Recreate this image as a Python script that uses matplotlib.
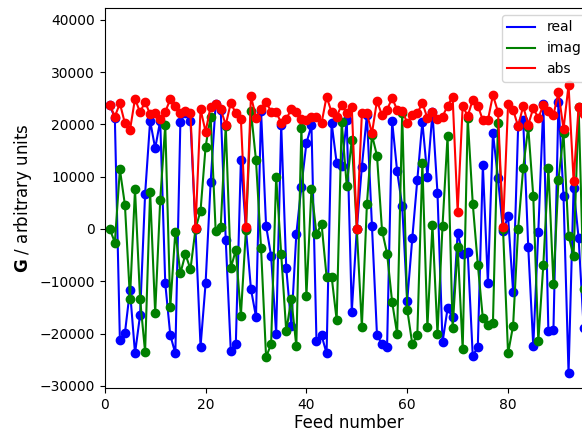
import numpy as np
import matplotlib.pyplot as plt

# feed numbers (1..95 visible in the picture)
feed = np.arange(1, 96)

real = [23700, 21200, -21200, -19900, -11700, -23800, -16500, 6600, 20700, 15400,
        20700, -10400, -20300, -23800, 20500, 22100, 20700, 0, -22500, -10400,
        8900, 23900, 22800, -2100, -23300, -21900, 13200, 0, -11500, -16800,
        22600, 600, -5200, -20100, 19900, -7500, -18500, -1000, 8100, 16400,
        19800, -21500, -20300, -23800, 20300, 12600, 12000, 20800, -15800, 0,
        11900, 21800, 600, -20300, -22000, -22500, 20700, 11000, 4400, -13700,
        -1800, 9400, 20500, 10000, 22300, 6900, -21700, -15200, -16900, -800,
        -4700, -4500, -24300, -22500, 12200, -10400, 18400, 9700, -400, 2400,
        -12000, 19600, 20800, -3400, -22400, -600, 23900, -19600, -19400, 24300,
        6300, -27600, 7800, -1800, -18900]

imag = [0, -2600, 11400, 4600, -13300, 7600, -13300, -23500, 7100, -16100,
        5500, 19900, -14900, -500, -8500, -4800, -7700, 0, 3500, 15700,
        21500, -400, 400, 19700, -7500, -4000, -16600, -200, 22600, 13100,
        -3600, -24500, -22000, 10000, -4800, -19600, -13300, -22400, 19300, -12800,
        7600, -1000, 1000, -9100, -9100, -17400, 20500, 8200, 17000, 0,
        -18700, 4700, 18000, 14000, -300, -4700, -13900, -20100, 22200, -15400,
        -22000, -20300, 12600, -18800, 800, -20100, 600, 17800, -19000, -3400,
        -23000, 21200, 4800, -6800, -17100, -18400, -18000, 20200, 0, -23800,
        -18500, 0, 11600, 19500, 6300, -21500, -6800, 11600, -10500, 9400,
        18300, -1300, -5200, 23300, -11500]

absval = [23700, 21500, 24000, 20200, 18900, 24900, 22300, 24300, 21900, 22100,
          21000, 22400, 24800, 23500, 22100, 22600, 22100, 100, 22900, 18600,
          23400, 23900, 22900, 19900, 24100, 22100, 21000, 300, 25400, 21300,
          22900, 24300, 22400, 22300, 20300, 21000, 22900, 22300, 21000, 20800,
          21400, 21500, 20200, 25300, 22300, 21500, 23700, 22100, 23300, 0,
          22100, 22100, 18300, 24500, 21700, 22800, 25000, 22800, 22600, 20300,
          21800, 22100, 24100, 21200, 22300, 21000, 21500, 23500, 25300, 3300,
          23500, 21600, 24700, 23600, 20800, 20800, 25600, 22400, 300, 23800,
          22800, 19600, 23500, 19900, 23100, 21200, 23700, 22600, 21800, 26100,
          19100, 27500, 9200, 23400, 22000]

fig = plt.figure(figsize=(5.82, 4.33), dpi=100)
# the axes run a little past the right edge, as in the reference
ax = fig.add_axes([0.180, 0.104, 0.8402, 0.8776])

# lines carry the legend labels, dots are drawn separately (legend shows plain lines)
for vals, col, name in [(real, 'blue', 'real'), (imag, 'green', 'imag'), (absval, 'red', 'abs')]:
    ax.plot(feed, vals, '-', color=col, label=name)
    ax.plot(feed, vals, 'o', color=col)

ax.set_xlim(0, 97.0)
ax.set_ylim(-30400, 42250)
ax.set_xticks([0, 20, 40, 60, 80])
ax.set_xlabel('Feed number', fontsize=12, labelpad=2)
ax.set_ylabel(r'$\mathbf{G}$ / arbitrary units', fontsize=12)
ax.legend(loc='upper right')

fig.savefig('out.png', dpi=100)
